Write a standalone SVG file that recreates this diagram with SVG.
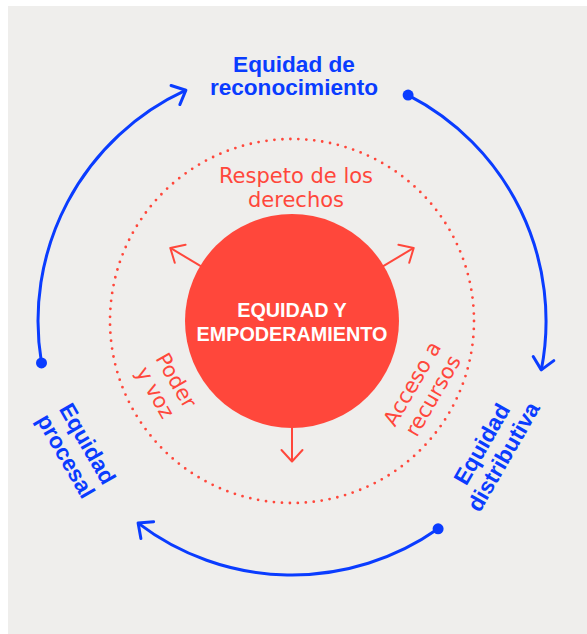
<svg xmlns="http://www.w3.org/2000/svg" width="587" height="634" viewBox="0 0 587 634">
  <style>
    .blue-lbl { font-family: "Liberation Sans", Arial, sans-serif; font-weight: 700; font-size: 22.6px; fill: #0a3cff; text-anchor: middle; }
    .red-lbl { font-family: "DejaVu Sans", "Liberation Sans", sans-serif; font-size: 21px; fill: #ff473b; text-anchor: middle; }
    .center-lbl { font-family: "Liberation Sans", Arial, sans-serif; font-weight: 700; font-size: 19.8px; fill: #ffffff; text-anchor: middle; }
    .cycle { fill: none; stroke: #0a3cff; stroke-width: 3; marker-end: url(#blueArrow); }
    .spoke { fill: none; stroke: #ff473b; stroke-width: 2; marker-end: url(#redArrow); }
    .dot { fill: #0a3cff; }
  </style>
  <defs>
    <marker id="blueArrow" markerUnits="userSpaceOnUse" orient="auto" viewBox="-15 -15 30 30" markerWidth="30" markerHeight="30" refX="0" refY="0" overflow="visible">
      <path d="M-11.5 -10.5 L0 0 L-11.5 10.5" fill="none" stroke="#0a3cff" stroke-width="3" stroke-linecap="round" stroke-linejoin="round"/>
    </marker>
    <marker id="redArrow" markerUnits="userSpaceOnUse" orient="auto" viewBox="-15 -15 30 30" markerWidth="30" markerHeight="30" refX="0" refY="0" overflow="visible">
      <path d="M-11.5 -10.5 L0 0 L-11.5 10.5" fill="none" stroke="#ff473b" stroke-width="2" stroke-linecap="round" stroke-linejoin="round"/>
    </marker>
  </defs>

  <rect x="0" y="0" width="587" height="634" fill="#ffffff"/>
  <rect x="8" y="6" width="579" height="628" fill="#efeeec"/>

  <g id="ring">
    <circle cx="292" cy="321" r="182" fill="none" stroke="#ff473b" stroke-width="2.8" stroke-linecap="round" stroke-dasharray="0 7.997"/>
  </g>

  <g id="connectors">
    <path class="cycle" d="M41.5 362.9 A254 254 0 0 1 185.9 90.2"/>
    <path class="cycle" d="M408.1 95.1 A254 254 0 0 1 541.3 369.9"/>
    <path class="cycle" d="M438.1 528.8 A254 254 0 0 1 138.1 523.1"/>
    <circle class="dot" cx="41.5" cy="362.9" r="5.5"/>
    <circle class="dot" cx="408.1" cy="95.1" r="5.5"/>
    <circle class="dot" cx="438.1" cy="528.8" r="5.5"/>
    <path class="spoke" d="M202 266.9 L170.3 247.9"/>
    <path class="spoke" d="M382 266.9 L413.7 247.9"/>
    <path class="spoke" d="M292 426 L292 461.5"/>
  </g>

  <g id="center">
    <circle cx="292" cy="321" r="107" fill="#ff473b"/>
    <text class="center-lbl" x="292" y="317.4">EQUIDAD Y</text>
    <text class="center-lbl" x="292" y="341">EMPODERAMIENTO</text>
  </g>

  <g id="respeto">
    <text class="red-lbl" x="296" y="183.3">Respeto de los</text>
    <text class="red-lbl" x="296" y="207.3">derechos</text>
  </g>

  <g id="poder" transform="translate(169.8 384) rotate(60)">
    <text class="red-lbl" x="0" y="0">Poder</text>
    <text class="red-lbl" x="0" y="24">y voz</text>
  </g>

  <g id="acceso" transform="translate(418.3 387.3) rotate(-60)">
    <text class="red-lbl" x="0" y="0">Acceso a</text>
    <text class="red-lbl" x="0" y="24">recursos</text>
  </g>

  <g id="reconocimiento">
    <text class="blue-lbl" x="294" y="71.7">Equidad de</text>
    <text class="blue-lbl" x="294" y="95">reconocimiento</text>
  </g>

  <g id="procesal" transform="translate(80.8 447.5) rotate(60)">
    <text class="blue-lbl" x="0" y="0">Equidad</text>
    <text class="blue-lbl" x="0" y="25">procesal</text>
  </g>

  <g id="distributiva" transform="translate(488.5 448) rotate(-60)">
    <text class="blue-lbl" x="0" y="0">Equidad</text>
    <text class="blue-lbl" x="0" y="25">distributiva</text>
  </g>
</svg>
